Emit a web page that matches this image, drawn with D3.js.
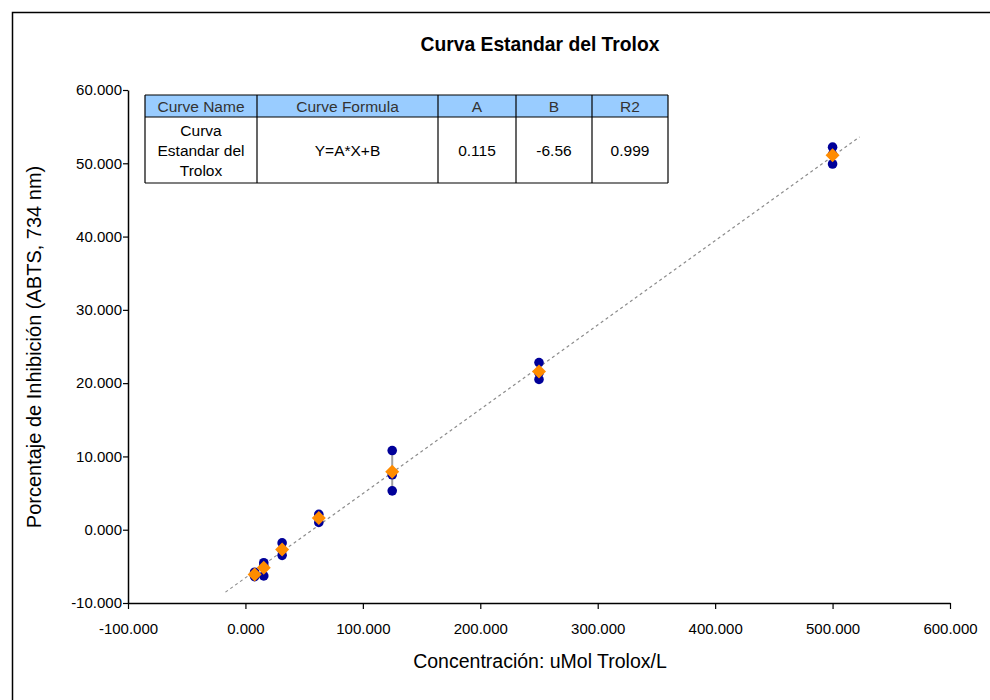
<!DOCTYPE html>
<html>
<head>
<meta charset="utf-8">
<script src="https://cdn.jsdelivr.net/npm/d3@7"></script>
<style>
  html, body { margin: 0; padding: 0; background: #fff; }
  svg { display: block; font-family: "Liberation Sans", Arial, sans-serif; }
</style>
</head>
<body>
<svg id="chart" width="990" height="700"></svg>
<script>
// ---- data ----
const concentrations = [7.8125, 15.625, 31.25, 62.5, 125, 250, 500];
const replicate1 = [-5.8, -4.5, -1.8, 2.1, 10.8, 22.8, 52.2];
const replicate2 = [-6.1, -4.9, -2.8, 1.6, 7.5, 21.4, 51.2];
const replicate3 = [-6.4, -6.3, -3.5, 1.0, 5.3, 20.5, 49.9];
const means = [-6.1, -5.2, -2.7, 1.6, 7.9, 21.6, 51.1];
const xTicks = [-100, 0, 100, 200, 300, 400, 500, 600];
const yTicks = [-10, 0, 10, 20, 30, 40, 50, 60];
const fitA = 0.115, fitB = -6.56;
const trendRange = [-17, 523];
const tableHeader = ["Curve Name", "Curve Formula", "A", "B", "R2"];
const tableRow = [["Curva", "Estandar del", "Trolox"], ["Y=A*X+B"], ["0.115"], ["-6.56"], ["0.999"]];

// ---- layout ----
const svg = d3.select("#chart");
const x = d3.scaleLinear().domain([-100, 600]).range([128, 950]);
const y = d3.scaleLinear().domain([-10, 60]).range([603, 90]);
const fmt = d => d.toFixed(3);

// outer frame
svg.append("rect").attr("x", 12.5).attr("y", 12.5).attr("width", 1000).attr("height", 1000)
  .attr("fill", "none").attr("stroke", "#000").attr("stroke-width", 1.5);

// title
svg.append("text").attr("x", 540).attr("y", 51).attr("text-anchor", "middle")
  .attr("font-size", 19.3).attr("font-weight", "bold").text("Curva Estandar del Trolox");

// axes
const xAxis = d3.axisBottom(x).tickValues(xTicks).tickFormat(fmt).tickSize(6).tickSizeOuter(0);
const gx = svg.append("g").attr("transform", `translate(0,${y(-10)})`).call(xAxis);
gx.select(".domain").attr("stroke-width", 1.5);
gx.selectAll(".tick line").attr("stroke-width", 1.2);
gx.selectAll("text").attr("font-size", 15).attr("font-family", "Liberation Sans, Arial")
  .attr("y", 20).attr("dy", "0.71em").attr("fill", "#000");

const yAxis = d3.axisLeft(y).tickValues(yTicks).tickFormat(fmt).tickSize(5).tickSizeOuter(0);
const gy = svg.append("g").attr("transform", `translate(${x(-100)},0)`).call(yAxis);
gy.select(".domain").attr("stroke-width", 1.5);
gy.selectAll(".tick line").attr("stroke-width", 1.2);
gy.selectAll("text").attr("font-size", 15).attr("font-family", "Liberation Sans, Arial")
  .attr("x", -6).attr("fill", "#000");

// axis titles
svg.append("text").attr("x", 540).attr("y", 668).attr("text-anchor", "middle")
  .attr("font-size", 19.5).text("Concentración: uMol Trolox/L");
svg.append("text").attr("transform", "translate(41,347) rotate(-90)").attr("text-anchor", "middle")
  .attr("font-size", 20).text("Porcentaje de Inhibición (ABTS, 734 nm)");

// trend line
svg.append("line")
  .attr("x1", x(trendRange[0])).attr("y1", y(fitA * trendRange[0] + fitB))
  .attr("x2", x(trendRange[1])).attr("y2", y(fitA * trendRange[1] + fitB))
  .attr("stroke", "#8c8c8c").attr("stroke-width", 1.2).attr("stroke-dasharray", "3,3");

// error bars (range of replicates)
const reps = [replicate1, replicate2, replicate3];
concentrations.forEach((c, i) => {
  const vals = reps.map(r => r[i]);
  svg.append("line").attr("x1", x(c)).attr("x2", x(c))
    .attr("y1", y(d3.min(vals))).attr("y2", y(d3.max(vals)))
    .attr("stroke", "#a0a0a0").attr("stroke-width", 2);
});

// replicate points
reps.forEach(r => {
  svg.append("g").selectAll("circle").data(concentrations).join("circle")
    .attr("cx", (d) => x(d)).attr("cy", (d, i) => y(r[i])).attr("r", 4.8)
    .attr("fill", "#000099");
});

// mean diamonds
svg.append("g").selectAll("path").data(concentrations).join("path")
  .attr("transform", (d, i) => `translate(${x(d)},${y(means[i])})`)
  .attr("d", "M0,-7L7,0L0,7L-7,0Z").attr("fill", "#ff8c00");

// table
const colX = [145, 257, 438, 516, 592, 668];
const rowY = [95, 117, 183];
const tbl = svg.append("g");
tbl.append("rect").attr("x", colX[0]).attr("y", rowY[0]).attr("width", colX[5] - colX[0])
  .attr("height", rowY[1] - rowY[0]).attr("fill", "#99ccff");
tbl.append("rect").attr("x", colX[0]).attr("y", rowY[1]).attr("width", colX[5] - colX[0])
  .attr("height", rowY[2] - rowY[1]).attr("fill", "#fff");
colX.forEach(cx => tbl.append("line").attr("x1", cx).attr("x2", cx).attr("y1", rowY[0]).attr("y2", rowY[2])
  .attr("stroke", "#000").attr("stroke-width", 1.2));
rowY.forEach(ry => tbl.append("line").attr("x1", colX[0]).attr("x2", colX[5]).attr("y1", ry).attr("y2", ry)
  .attr("stroke", "#000").attr("stroke-width", 1.2));
tableHeader.forEach((h, i) => {
  tbl.append("text").attr("x", (colX[i] + colX[i + 1]) / 2).attr("y", rowY[0] + 16.5)
    .attr("text-anchor", "middle").attr("font-size", 15.5).attr("fill", "#333").text(h);
});
tableRow.forEach((lines, i) => {
  const cy = (rowY[1] + rowY[2]) / 2;
  const lh = 20;
  lines.forEach((t, j) => {
    tbl.append("text").attr("x", (colX[i] + colX[i + 1]) / 2)
      .attr("y", cy + (j - (lines.length - 1) / 2) * lh + 5.5)
      .attr("text-anchor", "middle").attr("font-size", 15.5).attr("fill", "#000").text(t);
  });
});
</script>
</body>
</html>
